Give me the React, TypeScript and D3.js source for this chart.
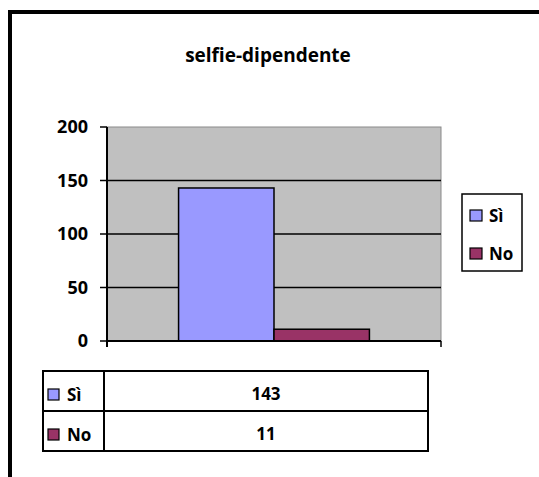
import React from "react";
import * as d3 from "d3";

const title = "selfie-dipendente";
const seriesNames = ["Sì", "No"];
const seriesValues = [143, 11];
const seriesColors = ["#9999FF", "#993366"];
const yTicks = [0, 50, 100, 150, 200];

const W = 539;
const H = 477;
const FONT = "'Open Sans', 'Liberation Sans', sans-serif";

export default function App() {
  const plotL = 107, plotR = 441, plotT = 127, plotB = 341;
  const y = d3.scaleLinear().domain([0, 200]).range([plotB, plotT]);
  const x = d3
    .scaleBand<string>()
    .domain(seriesNames)
    .range([plotL, plotR])
    .paddingInner(0)
    .paddingOuter(0.75);

  const legX = 462, legY = 194;
  const tabL = 43, tabR = 428, tabT = 371, tabB = 451, tabMid = 104;
  const rowH = (tabB - tabT) / seriesNames.length;

  return (
    <svg
      width={W}
      height={H}
      style={{ position: "absolute", left: 0, top: 0, background: "#fff" }}
      fontFamily={FONT}
      fontWeight="bold"
    >
      {/* outer frame */}
      <rect x={10} y={12} width={700} height={700} fill="#fff" stroke="#000" strokeWidth={4} />
      <text x={268} y={62} textAnchor="middle" fontSize={19}>
        {title}
      </text>

      {/* plot area */}
      <rect x={plotL} y={plotT} width={plotR - plotL} height={plotB - plotT} fill="#C0C0C0" stroke="#8a8a8a" strokeWidth={1} />
      {yTicks
        .filter((t) => t > 0 && t < 200)
        .map((t) => (
          <line key={"g" + t} x1={plotL} x2={plotR} y1={y(t)} y2={y(t)} stroke="#000" strokeWidth={1.5} />
        ))}
      {seriesNames.map((s, i) => (
        <rect
          key={s}
          x={x(s)}
          y={y(seriesValues[i])}
          width={x.bandwidth()}
          height={y(0) - y(seriesValues[i])}
          fill={seriesColors[i]}
          stroke="#000"
          strokeWidth={1.5}
        />
      ))}
      {/* axes */}
      <line x1={plotL} x2={plotL} y1={plotT} y2={plotB + 6} stroke="#000" strokeWidth={2} />
      <line x1={plotL} x2={plotR} y1={plotB} y2={plotB} stroke="#000" strokeWidth={2} />
      <line x1={plotR} x2={plotR} y1={plotB} y2={plotB + 6} stroke="#000" strokeWidth={1.5} />
      {yTicks.map((t) => (
        <g key={"t" + t}>
          <line x1={plotL - 7} x2={plotL} y1={y(t)} y2={y(t)} stroke="#000" strokeWidth={1.5} />
          <text x={88} y={y(t)} dy="0.36em" textAnchor="end" fontSize={18}>
            {t}
          </text>
        </g>
      ))}

      {/* legend */}
      <rect x={legX} y={legY} width={60} height={77} fill="#fff" stroke="#000" strokeWidth={1.5} />
      {seriesNames.map((s, i) => (
        <g key={"l" + s}>
          <rect x={legX + 8} y={legY + 16 + i * 38} width={12} height={11} fill={seriesColors[i]} stroke="#000" strokeWidth={1.2} />
          <text x={legX + 27} y={legY + 28 + i * 38} fontSize={17}>
            {s}
          </text>
        </g>
      ))}

      {/* data table */}
      <rect x={tabL} y={tabT} width={tabR - tabL} height={tabB - tabT} fill="#fff" stroke="#000" strokeWidth={2} />
      <line x1={tabMid} x2={tabMid} y1={tabT} y2={tabB} stroke="#000" strokeWidth={2} />
      {seriesNames.slice(1).map((s, i) => (
        <line key={"h" + s} x1={tabL} x2={tabR} y1={tabT + rowH * (i + 1)} y2={tabT + rowH * (i + 1)} stroke="#000" strokeWidth={2} />
      ))}
      {seriesNames.map((s, i) => (
        <g key={"r" + s}>
          <rect x={tabL + 5} y={tabT + 18 + i * rowH} width={11} height={11} fill={seriesColors[i]} stroke="#000" strokeWidth={1.2} />
          <text x={tabL + 24} y={tabT + 30 + i * rowH} fontSize={17}>
            {s}
          </text>
          <text x={(tabMid + tabR) / 2} y={tabT + 29 + i * rowH} textAnchor="middle" fontSize={17}>
            {seriesValues[i]}
          </text>
        </g>
      ))}
    </svg>
  );
}
